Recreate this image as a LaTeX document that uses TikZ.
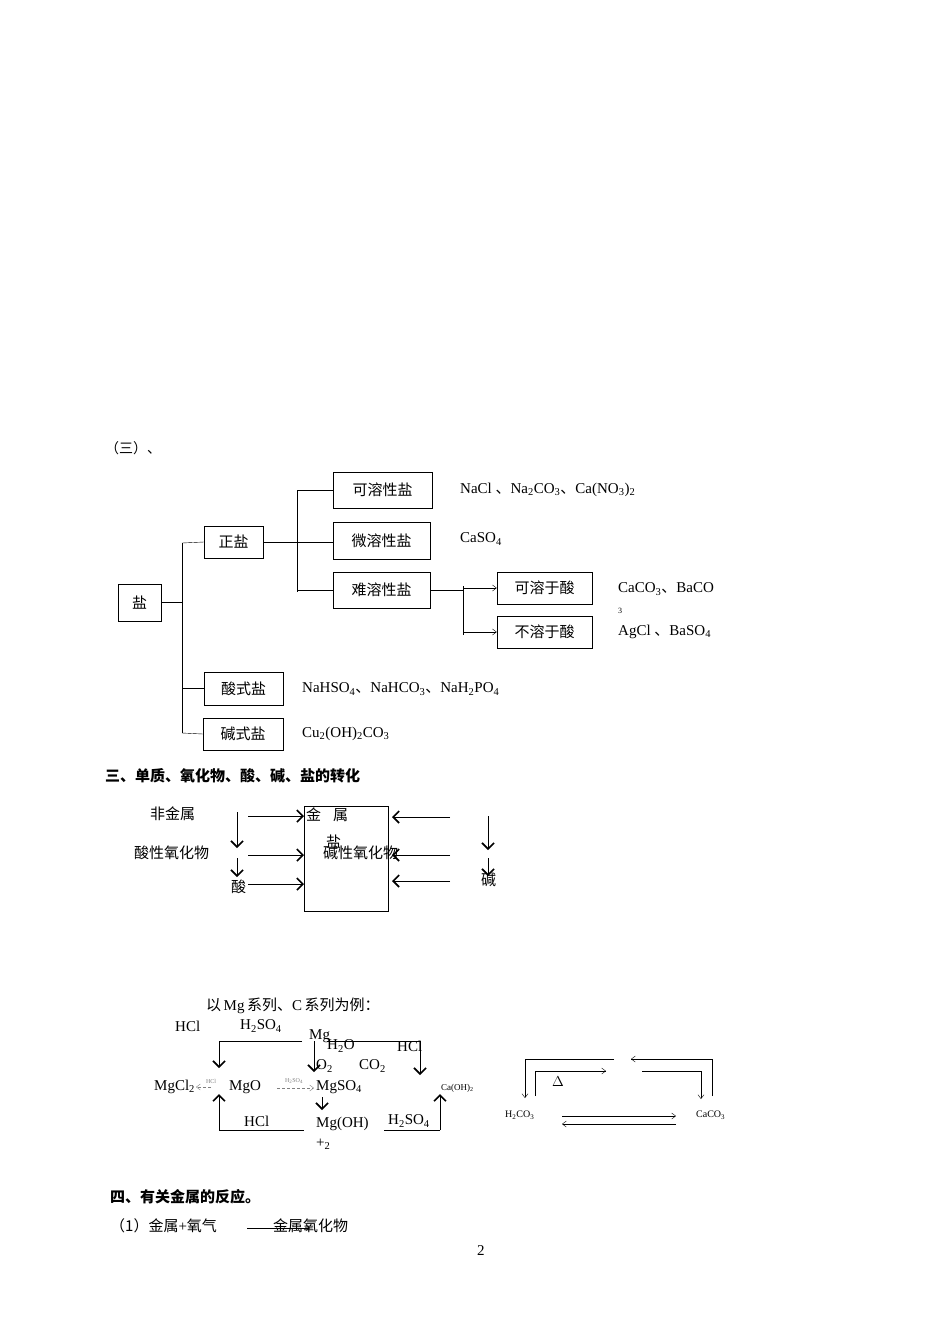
\documentclass[tikz,border=0pt]{standalone}
\usepackage{fontspec}
\setmainfont{Liberation Serif}
\newfontfamily\cjk{Noto Sans CJK SC}
\usetikzlibrary{arrows.meta}
\begin{document}
\begin{tikzpicture}[x=1pt,y=-1pt,
  box/.style={draw, minimum height=34pt, inner sep=0pt, font=\cjk\fontsize{15}{18}\selectfont},
  txt/.style={anchor=west, inner sep=0pt, font=\fontsize{15}{18}\selectfont},
  small/.style={anchor=west, inner sep=0pt, font=\fontsize{11}{13}\selectfont},
  arr/.style={line width=0.9pt, -{Straight Barb[length=6pt,width=12pt,line width=1.6pt]}},
  tip/.style={-{Straight Barb[length=4pt,width=6pt]}}]
\useasboundingbox (0,0) rectangle (950,1344);
% (三) heading
\node[txt, font=\cjk\fontsize{14}{16}\selectfont] at (105,448) {（三）、};
% salt tree boxes
\node[box, minimum width=43pt, minimum height=37pt] (yan) at (139.5,602.5) {盐};
\node[box, minimum width=59pt, minimum height=32pt] (zheng) at (233.5,542) {正盐};
\node[box, minimum width=99pt, minimum height=36pt] (kerong) at (382.5,490) {可溶性盐};
\node[box, minimum width=97pt, minimum height=37pt] (weirong) at (381.5,540.5) {微溶性盐};
\node[box, minimum width=97pt, minimum height=36pt] (nanrong) at (381.5,590) {难溶性盐};
\node[box, minimum width=95pt, minimum height=32pt] (kesuan) at (544.5,588) {可溶于酸};
\node[box, minimum width=95pt, minimum height=32pt] (busuan) at (544.5,632) {不溶于酸};
\node[box, minimum width=79pt, minimum height=33pt] (suanshi) at (243.5,688.5) {酸式盐};
\node[box, minimum width=80pt, minimum height=32pt] (jianshi) at (243,734) {碱式盐};
% tree lines
\draw (yan.east) -- (182,602.5);
\draw (182,543) -- (182,733);
\draw (182,543) -- (zheng.west);
\draw (182,688.5) -- (suanshi.west);
\draw (182,733) -- (jianshi.west);
\draw (zheng.east) -- (333,542);
\draw (297,490) -- (297,592);
\draw (297,490) -- (kerong.west);
\draw (297,590) -- (nanrong.west);
\draw (nanrong.east) -- (463,590);
\draw (463,586) -- (463,635);
\draw[tip] (463,588) -- (kesuan.west);
\draw[tip] (463,632) -- (busuan.west);
% salt examples
\node[txt] at (460,490) {NaCl {\cjk 、}Na\textsubscript{2}CO\textsubscript{3}{\cjk 、}Ca(NO\textsubscript{3})\textsubscript{2}};
\node[txt] at (460,539) {CaSO\textsubscript{4}};
\node[txt] at (618,589) {CaCO\textsubscript{3}{\cjk 、}BaCO};
\node[small, font=\fontsize{8}{9}\selectfont] at (618,611) {3};
\node[txt] at (618,632) {AgCl {\cjk 、}BaSO\textsubscript{4}};
\node[txt] at (302,689) {NaHSO\textsubscript{4}{\cjk 、}NaHCO\textsubscript{3}{\cjk 、}NaH\textsubscript{2}PO\textsubscript{4}};
\node[txt] at (302,734) {Cu\textsubscript{2}(OH)\textsubscript{2}CO\textsubscript{3}};
% section 三
\node[txt, font=\cjk\bfseries\fontsize{15}{18}\selectfont] at (105,776) {三、单质、氧化物、酸、碱、盐的转化};
\node[draw, minimum width=84pt, minimum height=105pt, inner sep=0pt] (mid) at (346,858.5) {};
\node[txt, font=\cjk\fontsize{15}{18}\selectfont] (fjs) at (150,814) {非金属};
\node[txt, font=\cjk\fontsize{15}{18}\selectfont] (sxy) at (134,853) {酸性氧化物};
\node[txt, font=\cjk\fontsize{15}{18}\selectfont] (suan) at (231,887) {酸};
\node[txt, font=\cjk\fontsize{15}{18}\selectfont] at (306,815) {金\hspace{12pt}属};
\node[txt, font=\cjk\fontsize{15}{18}\selectfont] at (326,842) {盐};
\node[txt, font=\cjk\fontsize{15}{18}\selectfont] at (323,853) {碱性氧化物};
\node[txt, font=\cjk\fontsize{15}{18}\selectfont] (jian) at (481,880) {碱};
\foreach \y in {816,855,884} \draw[arr] (248,\y) -- (304,\y);
\foreach \y in {817,855,881} \draw[arr] (450,\y) -- (392,\y);
\draw[arr] (237,812) -- (237,848);
\draw[arr] (237,858) -- (237,877);
\draw[arr] (488,816) -- (488,850);
\draw[arr] (488,858) -- (488,876);
% Mg and C series
\node[txt, font=\cjk\fontsize{15}{18}\selectfont] at (206,1006) {以\,{\rmfamily Mg}\,系列、{\rmfamily C}\,系列为例：};
\node[txt] at (175,1026) {HCl};
\node[txt] at (240,1026) {H\textsubscript{2}SO\textsubscript{4}};
\node[txt] (mg) at (309,1036) {Mg};
\node[txt] at (327,1046) {H\textsubscript{2}O};
\node[txt] at (397,1046) {HCl};
\node[txt] at (316,1066) {O\textsubscript{2}};
\node[txt] at (359,1066) {CO\textsubscript{2}};
\node[txt] (mgcl) at (154,1087) {MgCl\textsubscript{2}};
\node[txt] (mgo) at (229,1087) {MgO};
\node[txt] (mgso) at (316,1087) {MgSO\textsubscript{4}};
\node[small, font=\fontsize{9}{11}\selectfont] (caoh) at (441,1088) {Ca(OH)\textsubscript{2}};
\node[txt] at (244,1121) {HCl};
\node[txt] (mgoh) at (316,1124) {Mg(OH)};
\node[txt] at (316,1144) {+\textsubscript{2}};
\node[txt] at (388,1121) {H\textsubscript{2}SO\textsubscript{4}};
\draw (302,1041) -- (219,1041);
\draw[arr] (219,1041) -- (219,1068);
\draw[arr] (314,1041) -- (314,1072);
\draw (327,1041) -- (420,1041);
\draw[arr] (420,1041) -- (420,1075);
\draw[arr] (219,1130) -- (219,1094);
\draw (219,1130) -- (304,1130);
\draw[arr] (322,1097) -- (322,1110);
\draw (384,1130) -- (440,1130);
\draw[arr] (440,1130) -- (440,1094);
\draw[densely dashed, gray, tip] (211,1087) -- (196,1087);
\node[font=\fontsize{6}{7}\selectfont, gray] at (211,1081) {HCl};
\draw[densely dashed, gray, tip] (277,1088) -- (314,1088);
\node[font=\fontsize{6}{7}\selectfont, gray] at (294,1081) {H\textsubscript{2}SO\textsubscript{4}};
% C series
\node[small, font=\fontsize{10}{12}\selectfont] (hco) at (505,1115) {H\textsubscript{2}CO\textsubscript{3}};
\node[small, font=\fontsize{10}{12}\selectfont] (caco) at (696,1115) {CaCO\textsubscript{3}};
\draw (614,1059) -- (525,1059);
\draw[tip] (525,1059) -- (525,1098);
\draw (535,1096) -- (535,1071) -- (606,1071);
\draw[tip] (590,1071) -- (606,1071);
\node[font=\fontsize{14}{16}\selectfont] at (558,1082) {$\Delta$};
\draw (712,1096) -- (712,1059) -- (631,1059);
\draw[tip] (645,1059) -- (631,1059);
\draw (642,1071) -- (701,1071);
\draw[tip] (701,1071) -- (701,1099);
\draw[tip] (562,1116) -- (676,1116);
\draw[tip] (676,1124) -- (562,1124);
% section 四
\node[txt, font=\cjk\bfseries\fontsize{15}{18}\selectfont] at (110,1197) {四、有关金属的反应。};
\node[txt, font=\cjk\fontsize{15}{18}\selectfont] at (110,1226) {（1）金属{\rmfamily +}氧气};
\node[txt, font=\cjk\fontsize{15}{18}\selectfont] at (273,1226) {金属氧化物};
\draw[tip] (247,1228) -- (310,1228);
\node[txt] at (477,1251) {2};
\end{tikzpicture}
\end{document}
